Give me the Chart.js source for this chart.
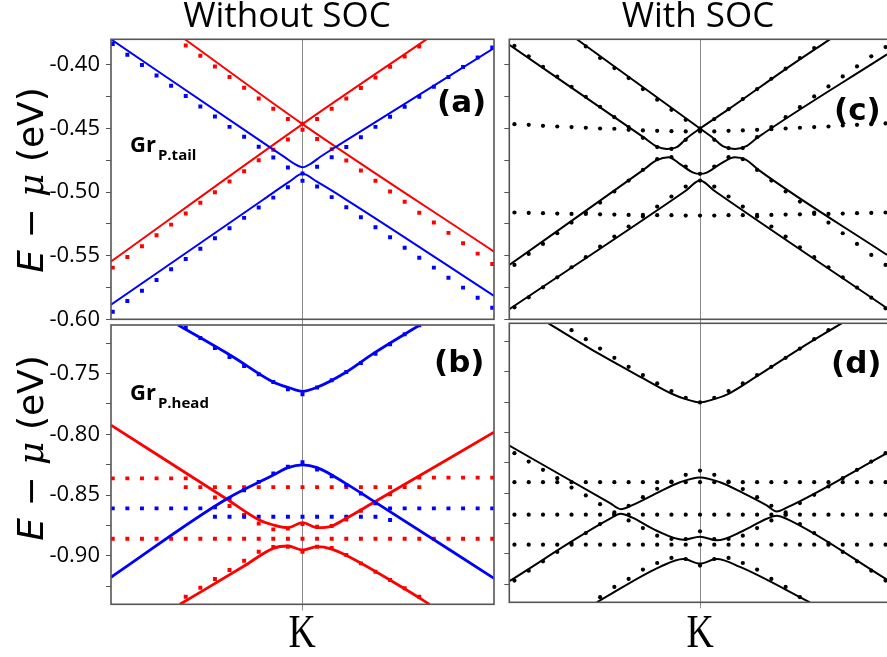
<!DOCTYPE html>
<html>
<head>
<meta charset="utf-8">
<script src="https://cdn.jsdelivr.net/npm/chart.js@4.4.1/dist/chart.umd.min.js"></script>
<style>
  html, body { margin: 0; padding: 0; background: #fff; width: 887px; height: 657px; overflow: hidden; position: relative; }
  canvas { position: absolute; }
</style>
</head>
<body>
<canvas id="panelA" width="500" height="345" style="left:0;top:0"></canvas>
<canvas id="panelC" width="400" height="345" style="left:500px;top:0"></canvas>
<canvas id="panelB" width="500" height="357" style="left:0;top:300px"></canvas>
<canvas id="panelD" width="400" height="357" style="left:500px;top:300px"></canvas>
<script>
// k-point index along the path through K (K = 0)
const kPoints = [-13,-12,-11,-10,-9,-8,-7,-6,-5,-4,-3,-2,-1,0,1,2,3,4,5,6,7,8,9,10,11,12,13];

// energy tick positions (eV); every second one carries a label
const upperTicks = [-0.600,-0.575,-0.550,-0.525,-0.500,-0.475,-0.450,-0.425,-0.400];
const lowerTicks = [-0.925,-0.900,-0.875,-0.850,-0.825,-0.800,-0.775,-0.750,-0.725];

// ---- (a) Gr P.tail, without SOC : energies in eV ----
const aBlueUpperDots = [-0.3837,-0.3921,-0.4002,-0.4084,-0.4165,-0.4246,-0.4328,-0.4407,-0.4488,-0.4566,-0.4645,-0.4729,-0.4808,-0.4855,-0.4802,-0.4726,-0.4647,-0.4569,-0.4488,-0.4409,-0.4330,-0.4252,-0.4173,-0.4097,-0.4018,-0.3943,-0.3864];
const aBlueLowerDots = [-0.5940,-0.5856,-0.5775,-0.5691,-0.5607,-0.5526,-0.5445,-0.5363,-0.5284,-0.5203,-0.5122,-0.5044,-0.4962,-0.4912,-0.4957,-0.5040,-0.5119,-0.5198,-0.5276,-0.5355,-0.5437,-0.5516,-0.5594,-0.5673,-0.5751,-0.5830,-0.5909];
const aRedFallDots = [null,null,null,null,null,-0.3848,-0.3929,-0.4013,-0.4097,-0.4181,-0.4265,-0.4346,-0.4427,-0.4511,-0.4584,-0.4663,-0.4753,-0.4831,-0.4912,-0.4996,-0.5077,-0.5162,-0.5240,-0.5321,-0.5402,-0.5484,-0.5565];
const aRedRiseDots = [-0.5594,-0.5510,-0.5426,-0.5339,-0.5256,-0.5169,-0.5085,-0.5001,-0.4918,-0.4836,-0.4750,-0.4668,-0.4587,-0.4464,-0.4427,-0.4346,-0.4265,-0.4183,-0.4100,-0.4016,-0.3935,-0.3856,null,null,null,null,null];
const aRedFallLine = [[-8.06,-0.3800],[0,-0.4466],[13.12,-0.5468]];
const aRedRiseLine = [[-13.12,-0.5546],[0,-0.4466],[8.49,-0.3800]];
const aBlueUpperLine = [[-13.12,-0.3800],[-2.5,-0.4628],[-1.2,-0.4728],[-0.55,-0.4779],[0,-0.4805],[0.55,-0.4779],[1.2,-0.4725],[2.5,-0.4630],[13.12,-0.3869]];
const aBlueLowerLine = [[-13.12,-0.5886],[-2.70,-0.5061],[-0.87,-0.4917],[0,-0.4857],[0.96,-0.4917],[3.01,-0.5061],[13.12,-0.5816]];

// ---- (b) Gr P.head, without SOC ----
const bBlueUpperDots = [null,null,null,null,null,-0.7122,-0.7207,-0.7289,-0.7363,-0.7438,-0.7506,-0.7569,-0.7629,-0.7670,-0.7615,-0.7555,-0.7487,-0.7413,-0.7336,-0.7259,-0.7177,-0.7103,null,null,null,null,null];
const bBlueBandDots = [-0.8610,-0.8610,-0.8610,-0.8610,-0.8610,-0.8610,-0.8610,-0.8602,-0.8530,-0.8460,-0.8392,-0.8322,-0.8268,-0.8231,-0.8290,-0.8345,-0.8419,-0.8487,-0.8569,-0.8610,-0.8610,-0.8610,-0.8610,-0.8610,-0.8610,-0.8610,-0.8610];
const bBlueFlatDots = [null,null,null,null,null,null,null,-0.8679,-0.8679,-0.8679,-0.8679,-0.8679,-0.8679,-0.8679,-0.8679,-0.8679,-0.8679,-0.8679,-0.8679,-0.8706,null,null,null,null,null,null,null];
const bRedTopDots = [-0.8363,-0.8363,-0.8363,-0.8363,-0.8363,-0.8363,null,null,null,null,null,null,null,null,null,null,null,null,null,null,null,-0.8357,-0.8357,-0.8357,-0.8357,-0.8357,-0.8357];
const bRedMidDots = [null,null,null,null,null,-0.8435,-0.8435,-0.8435,-0.8435,-0.8435,-0.8435,-0.8435,-0.8435,-0.8435,-0.8435,-0.8435,-0.8435,-0.8435,-0.8435,-0.8435,-0.8435,-0.8435,null,null,null,null,null];
const bRedLowDots = [-0.8861,-0.8861,-0.8861,-0.8861,-0.8861,-0.8861,-0.8861,-0.8861,-0.8861,-0.8861,-0.8861,-0.8861,-0.8861,-0.8861,-0.8861,-0.8861,-0.8861,-0.8861,-0.8861,-0.8861,-0.8861,-0.8861,-0.8861,-0.8861,-0.8861,-0.8861,-0.8861];
const bRedUpperBandDots = [null,null,null,null,null,null,null,-0.8520,-0.8591,-0.8665,-0.8734,-0.8783,-0.8775,-0.8739,-0.8762,-0.8756,-0.8701,-0.8630,-0.8564,-0.8493,null,null,null,null,null,null,null];
const bRedLowerBandDots = [null,null,null,null,null,-0.9337,-0.9263,-0.9192,-0.9118,-0.9041,-0.8967,-0.8929,-0.8926,-0.8967,-0.8926,-0.8937,-0.8994,-0.9063,-0.9132,-0.9200,-0.9268,-0.9337,null,null,null,null,null];
const bBlueUpperLine = [[-8.52,-0.7100],[-4.75,-0.7363],[-2.01,-0.7569],[-0.96,-0.7615],[0,-0.7646],[0.96,-0.7615],[3.01,-0.7487],[4.84,-0.7336],[8.03,-0.7100]];
const bBlueLowerLine = [[-13.12,-0.9177],[-5.2,-0.8533],[-2,-0.8336],[-1,-0.8275],[0,-0.8252],[1,-0.8275],[2.95,-0.8404],[4.95,-0.8556],[13.12,-0.9186]];
const bRedUpperLine = [[-13.12,-0.7925],[-5.2,-0.8533],[-3,-0.8704],[-2,-0.8747],[-1,-0.8769],[0,-0.8727],[1,-0.8769],[2,-0.8756],[3,-0.8692],[4.95,-0.8556],[13.12,-0.7983]];
const bRedLowerLine = [[-8.4,-0.9400],[-4,-0.9085],[-2,-0.8939],[-1,-0.8920],[0,-0.8953],[1,-0.8925],[2,-0.8945],[2.95,-0.8994],[6.94,-0.9268],[8.7,-0.9400]];

// ---- (c) Gr P.tail, with SOC ----
const cFlatUpperDots = [-0.4467,-0.4472,-0.4480,-0.4485,-0.4490,-0.4495,-0.4501,-0.4503,-0.4511,-0.4516,-0.4519,-0.4522,-0.4524,-0.4524,-0.4524,-0.4519,-0.4516,-0.4511,-0.4506,-0.4501,-0.4495,-0.4490,-0.4485,-0.4477,-0.4472,-0.4467,-0.4461];
const cFlatLowerDots = [-0.5161,-0.5164,-0.5166,-0.5169,-0.5172,-0.5172,-0.5175,-0.5177,-0.5180,-0.5180,-0.5182,-0.5182,-0.5185,-0.5185,-0.5185,-0.5182,-0.5182,-0.5180,-0.5180,-0.5177,-0.5175,-0.5172,-0.5172,-0.5169,-0.5166,-0.5164,-0.5161];
const cBand1Dots = [-0.3851,-0.3934,-0.4016,-0.4094,-0.4173,-0.4252,-0.4330,-0.4412,-0.4490,-0.4574,-0.4647,-0.4661,-0.4590,-0.4501,-0.4427,-0.4349,-0.4270,-0.4191,-0.4110,-0.4031,-0.3947,-0.3869,null,null,null,null,null];
const cBand2Dots = [null,null,null,null,null,-0.3856,-0.3947,-0.4026,-0.4105,-0.4191,-0.4275,-0.4354,-0.4433,-0.4501,-0.4590,-0.4655,-0.4655,-0.4569,-0.4490,-0.4412,-0.4333,-0.4249,-0.4170,-0.4092,-0.4013,-0.3934,-0.3861];
const cBand3Dots = [-0.5573,-0.5486,-0.5408,-0.5324,-0.5240,-0.5161,-0.5083,-0.4996,-0.4910,-0.4826,-0.4742,-0.4726,-0.4800,-0.4857,-0.4800,-0.4726,-0.4742,-0.4826,-0.4910,-0.4996,-0.5075,-0.5161,-0.5240,-0.5324,-0.5408,-0.5494,-0.5573];
const cBand4Dots = [-0.5906,-0.5827,-0.5749,-0.5670,-0.5591,-0.5512,-0.5429,-0.5350,-0.5271,-0.5193,-0.5114,-0.5035,-0.4957,-0.4910,-0.4957,-0.5035,-0.5114,-0.5193,-0.5271,-0.5350,-0.5434,-0.5512,-0.5591,-0.5670,-0.5751,-0.5830,-0.5914];
const cBand1Line = [[-13.36,-0.3843],[-3.97,-0.4569],[-3.03,-0.4642],[-2.33,-0.4661],[-1.63,-0.4648],[-0.93,-0.4577],[0,-0.4501],[2.01,-0.4349],[6.0,-0.4034],[9.1,-0.3800]];
const cBand2Line = [[-8.63,-0.3800],[0,-0.4501],[0.93,-0.4577],[1.63,-0.4642],[2.45,-0.4661],[3.2,-0.4642],[4.0,-0.4575],[13.1,-0.3919]];
const cBand3Line = [[-13.36,-0.5573],[-3.97,-0.4826],[-3.03,-0.4750],[-2.2,-0.4726],[-1.4,-0.4780],[-0.47,-0.4847],[0,-0.4857],[0.47,-0.4847],[1.4,-0.4780],[2.45,-0.4726],[3.2,-0.4745],[4.1,-0.4826],[13.1,-0.5494]];
const cBand4Line = [[-13.36,-0.5921],[-1,-0.4990],[0,-0.4910],[1,-0.4990],[13.1,-0.5913]];

// ---- (d) Gr P.head, with SOC ----
const dUpperDots = [null,null,null,null,-0.7157,-0.7231,-0.7308,-0.7385,-0.7459,-0.7527,-0.7596,-0.7659,-0.7714,-0.7752,-0.7714,-0.7659,-0.7596,-0.7527,-0.7459,-0.7385,-0.7308,-0.7231,-0.7157,null,null,null,null];
const dBandADots = [-0.8171,-0.8240,-0.8308,-0.8377,-0.8454,-0.8519,-0.8591,-0.8659,-0.8604,-0.8533,-0.8464,-0.8404,-0.8349,-0.8314,-0.8349,-0.8404,-0.8467,-0.8533,-0.8604,-0.8659,-0.8582,-0.8514,-0.8445,-0.8377,-0.8308,-0.8240,-0.8171];
const dBandBDots = [-0.9221,-0.9139,-0.9062,-0.8985,-0.8911,-0.8829,-0.8755,-0.8678,-0.8725,-0.8788,-0.8851,-0.8878,-0.8878,-0.8815,-0.8878,-0.8878,-0.8851,-0.8788,-0.8725,-0.8678,-0.8755,-0.8829,-0.8911,-0.8985,-0.9062,-0.9139,-0.9221];
const dBandCDots = [null,null,null,null,null,null,-0.9358,-0.9273,-0.9207,-0.9130,-0.9076,-0.9034,-0.9043,-0.9097,-0.9043,-0.9034,-0.9076,-0.9130,-0.9207,-0.9273,-0.9358,null,null,null,null,null,null];
const dRowTopDots = [-0.8410,-0.8410,-0.8410,-0.8410,-0.8410,-0.8410,-0.8410,-0.8410,-0.8410,-0.8410,-0.8410,-0.8410,-0.8410,-0.8410,-0.8410,-0.8410,-0.8410,-0.8410,-0.8410,-0.8410,-0.8410,-0.8410,-0.8410,-0.8410,-0.8410,-0.8410,-0.8410];
const dRowMidDots = [-0.8678,-0.8678,-0.8678,-0.8678,-0.8678,-0.8678,-0.8678,-0.8678,-0.8678,-0.8678,-0.8678,-0.8678,-0.8678,-0.8678,-0.8678,-0.8678,-0.8678,-0.8678,-0.8678,-0.8678,-0.8678,-0.8678,-0.8678,-0.8678,-0.8678,-0.8678,-0.8678];
const dRowLowDots = [-0.8925,-0.8925,-0.8925,-0.8925,-0.8925,-0.8925,-0.8925,-0.8925,-0.8925,-0.8925,-0.8925,-0.8925,-0.8925,-0.8925,-0.8925,-0.8925,-0.8925,-0.8925,-0.8925,-0.8925,-0.8925,-0.8925,-0.8925,-0.8925,-0.8925,-0.8925,-0.8925];
const dUpperLine = [[-10.62,-0.7100],[-7.0,-0.7357],[-3.97,-0.7555],[-1.98,-0.7681],[-1.0,-0.7725],[0,-0.7752],[1.0,-0.7725],[2.0,-0.7681],[3.99,-0.7536],[7.0,-0.7308],[9.92,-0.7100]];
const dBandALine = [[-13.36,-0.8108],[-6.30,-0.8582],[-5.55,-0.8632],[-4.78,-0.8601],[-3.03,-0.8500],[-1.40,-0.8410],[0,-0.8371],[1.40,-0.8410],[3.03,-0.8500],[4.67,-0.8601],[5.37,-0.8651],[6.11,-0.8618],[13.1,-0.8171]];
const dBandBLine = [[-13.36,-0.9226],[-6.30,-0.8711],[-5.55,-0.8670],[-4.78,-0.8700],[-3.03,-0.8810],[-1.17,-0.8884],[0,-0.8859],[1.17,-0.8889],[3.03,-0.8810],[4.67,-0.8711],[5.37,-0.8686],[6.11,-0.8714],[13.1,-0.9213]];
const dBandCLine = [[-7.23,-0.9400],[-2.80,-0.9108],[-1.17,-0.9043],[0,-0.9081],[1.17,-0.9043],[2.80,-0.9108],[7.70,-0.9400]];

const RED = '#ff0000', BLUE = '#0000ff', BLACK = '#000000';

Chart.defaults.font.family = '"Open Sans", sans-serif';

function dotPoints(vals) {
  return kPoints.map((k, i) => ({ x: k, y: vals[i] })).filter(p => p.y !== null);
}
function curvePoints(pairs) {
  return pairs.map(p => ({ x: p[0], y: p[1] }));
}
function lineSet(pairs, color, width) {
  return { data: curvePoints(pairs), borderColor: color, backgroundColor: color, borderWidth: width,
           pointRadius: 0, cubicInterpolationMode: 'monotone', fill: false, clip: 0 };
}
function dotSet(vals, color, style, r) {
  return { data: dotPoints(vals), showLine: false, borderColor: color, backgroundColor: color,
           pointStyle: style, pointRadius: r, pointHoverRadius: r, pointBorderWidth: 0,
           pointBackgroundColor: color, clip: 0 };
}

// rectangle round the plotting area
const framePlugin = {
  id: 'frame',
  afterDatasetsDraw(chart) {
    const { ctx, chartArea: a } = chart;
    ctx.save();
    ctx.strokeStyle = '#555555';
    ctx.lineWidth = 1.6;
    ctx.strokeRect(a.left, a.top, a.right - a.left, a.bottom - a.top);
    ctx.restore();
  }
};

function isMajor(v) { const m = v / 0.05; return Math.abs(m - Math.round(m)) < 1e-6; }

function makePanel(id, o) {
  return new Chart(document.getElementById(id), {
    type: 'line',
    data: { datasets: o.datasets },
    options: {
      responsive: false, animation: false, events: [],
      layout: { padding: { top: o.padTop, right: o.padRight, left: 0, bottom: 0 } },
      plugins: { legend: { display: false }, tooltip: { enabled: false }, colors: { enabled: false } },
      scales: {
        x: {
          type: 'linear', min: -o.kEdge, max: o.kEdge,
          afterBuildTicks: s => { s.ticks = [{ value: 0 }]; },
          afterFit: s => { s.height = o.xHeight; },
          ticks: { display: false },
          grid: { color: '#8a8a8a', lineWidth: 1, drawTicks: true, tickLength: 6 },
          border: { display: false }
        },
        y: {
          type: 'linear', min: o.eMin, max: o.eMax,
          afterBuildTicks: s => { s.ticks = o.ticks.map(v => ({ value: v })); },
          afterFit: s => { s.width = o.yWidth; },
          ticks: {
            autoSkip: false,
            padding: o.labels ? 6 : 0, color: '#000',
            font: { size: 22, family: '"Open Sans", sans-serif' },
            callback: v => (o.labels && isMajor(v)) ? v.toFixed(2) : ''
          },
          grid: { drawOnChartArea: false, drawTicks: true, tickLength: 5, color: '#555555', lineWidth: 1 },
          border: { display: false }
        }
      }
    },
    plugins: [framePlugin, { id: 'decor' + id, afterDraw: chart => o.decor(chart.ctx) }]
  });
}

function drawYTitle(ctx, cx, cy) {
  const size = 36;
  const parts = [
    ['E', `italic ${size}px "DejaVu Sans"`],
    [' \u2212 ', `${size}px "DejaVu Sans"`],
    ['\u03bc', `italic ${size}px "DejaVu Serif"`],
    [' (eV)', `${size}px "DejaVu Sans"`]
  ];
  let total = 0;
  const widths = parts.map(p => { ctx.font = p[1]; const w = ctx.measureText(p[0]).width; total += w; return w; });
  ctx.save();
  ctx.translate(cx, cy);
  ctx.rotate(-Math.PI / 2);
  ctx.fillStyle = '#000';
  ctx.textAlign = 'left';
  ctx.textBaseline = 'alphabetic';
  let u = -total / 2;
  parts.forEach((p, i) => { ctx.font = p[1]; ctx.fillText(p[0], u, 0); u += widths[i]; });
  ctx.restore();
}
function drawText(ctx, txt, x, y, font, align) {
  ctx.save();
  ctx.font = font; ctx.fillStyle = '#000';
  ctx.textAlign = align || 'left'; ctx.textBaseline = 'alphabetic';
  ctx.fillText(txt, x, y);
  ctx.restore();
}
function drawGr(ctx, x, y, sub) {
  ctx.save();
  ctx.fillStyle = '#000'; ctx.textBaseline = 'alphabetic'; ctx.textAlign = 'left';
  ctx.font = 'bold 22px "Open Sans"';
  ctx.fillText('Gr', x, y);
  const w = ctx.measureText('Gr').width;
  ctx.font = 'bold 15px "Open Sans"';
  ctx.fillText(sub, x + w + 2, y + 8.3);
  ctx.restore();
}
function drawK(ctx, cx, baseline) {
  ctx.save();
  ctx.translate(cx, baseline);
  ctx.scale(0.82, 1);
  ctx.font = '46px "Liberation Serif"';
  ctx.fillStyle = '#000';
  ctx.textAlign = 'center'; ctx.textBaseline = 'alphabetic';
  ctx.fillText('K', 0, 0);
  ctx.restore();
}

const SQ = 2.8, DOT = 2.1;

makePanel('panelA', {
  padTop: 39.3, padRight: 6, yWidth: 111, xHeight: 25.7, kEdge: 13.12, eMin: -0.60, eMax: -0.38,
  ticks: upperTicks, labels: true,
  datasets: [
    lineSet(aBlueUpperLine, BLUE, 2), lineSet(aBlueLowerLine, BLUE, 2),
    lineSet(aRedFallLine, RED, 2), lineSet(aRedRiseLine, RED, 2),
    dotSet(aBlueUpperDots, BLUE, 'rect', SQ), dotSet(aBlueLowerDots, BLUE, 'rect', SQ),
    dotSet(aRedFallDots, RED, 'rect', SQ), dotSet(aRedRiseDots, RED, 'rect', SQ)
  ],
  decor: ctx => {
    drawText(ctx, 'Without SOC', 287, 27, '35px "Open Sans"', 'center');
    drawYTitle(ctx, 43, 180);
    drawText(ctx, '(a)', 437, 112, 'bold 31px "DejaVu Sans"');
    drawGr(ctx, 130, 151.7, 'P.tail');
  }
});

makePanel('panelC', {
  padTop: 39.3, padRight: 9.3, yWidth: 9.3, xHeight: 25.7, kEdge: 13.36, eMin: -0.60, eMax: -0.38,
  ticks: upperTicks, labels: false,
  datasets: [
    lineSet(cBand1Line, BLACK, 2), lineSet(cBand2Line, BLACK, 2),
    lineSet(cBand3Line, BLACK, 2), lineSet(cBand4Line, BLACK, 2),
    dotSet(cFlatUpperDots, BLACK, 'circle', DOT), dotSet(cFlatLowerDots, BLACK, 'circle', DOT),
    dotSet(cBand1Dots, BLACK, 'circle', DOT), dotSet(cBand2Dots, BLACK, 'circle', DOT),
    dotSet(cBand3Dots, BLACK, 'circle', DOT), dotSet(cBand4Dots, BLACK, 'circle', DOT)
  ],
  decor: ctx => {
    drawText(ctx, 'With SOC', 198, 27, '35px "Open Sans"', 'center');
    drawText(ctx, '(c)', 334, 120, 'bold 31px "DejaVu Sans"');
  }
});

makePanel('panelB', {
  padTop: 25, padRight: 6, yWidth: 111, xHeight: 52.7, kEdge: 13.12, eMin: -0.94, eMax: -0.71,
  ticks: lowerTicks, labels: true,
  datasets: [
    lineSet(bBlueUpperLine, BLUE, 2.8), lineSet(bBlueLowerLine, BLUE, 2.8),
    lineSet(bRedUpperLine, RED, 2.8), lineSet(bRedLowerLine, RED, 2.8),
    dotSet(bBlueUpperDots, BLUE, 'rect', SQ), dotSet(bBlueBandDots, BLUE, 'rect', SQ),
    dotSet(bBlueFlatDots, BLUE, 'rect', SQ),
    dotSet(bRedTopDots, RED, 'rect', SQ), dotSet(bRedMidDots, RED, 'rect', SQ),
    dotSet(bRedLowDots, RED, 'rect', SQ), dotSet(bRedUpperBandDots, RED, 'rect', SQ),
    dotSet(bRedLowerBandDots, RED, 'rect', SQ)
  ],
  decor: ctx => {
    drawYTitle(ctx, 43, 148);
    drawText(ctx, '(b)', 434, 71.7, 'bold 31px "DejaVu Sans"');
    drawGr(ctx, 130, 100, 'P.head');
    drawK(ctx, 302, 347);
  }
});

makePanel('panelD', {
  padTop: 23.3, padRight: 9.3, yWidth: 9.3, xHeight: 54.7, kEdge: 13.36, eMin: -0.94, eMax: -0.71,
  ticks: lowerTicks, labels: false,
  datasets: [
    lineSet(dUpperLine, BLACK, 2), lineSet(dBandALine, BLACK, 2),
    lineSet(dBandBLine, BLACK, 2), lineSet(dBandCLine, BLACK, 2),
    dotSet(dUpperDots, BLACK, 'circle', DOT), dotSet(dBandADots, BLACK, 'circle', DOT),
    dotSet(dBandBDots, BLACK, 'circle', DOT), dotSet(dBandCDots, BLACK, 'circle', DOT),
    dotSet(dRowTopDots, BLACK, 'circle', DOT), dotSet(dRowMidDots, BLACK, 'circle', DOT),
    dotSet(dRowLowDots, BLACK, 'circle', DOT)
  ],
  decor: ctx => {
    drawText(ctx, '(d)', 331, 73.3, 'bold 31px "DejaVu Sans"');
    drawK(ctx, 200, 347);
  }
});
</script>
</body>
</html>
